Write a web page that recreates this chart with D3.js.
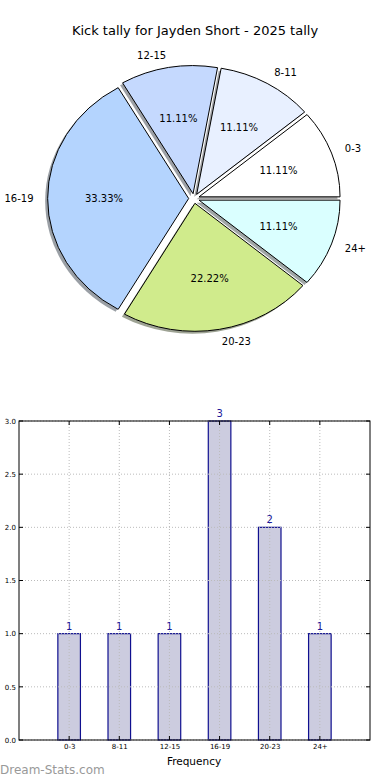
<!DOCTYPE html>
<html><head><meta charset="utf-8">
<script src="https://cdn.jsdelivr.net/npm/d3@7"></script>
<style>body{margin:0;background:#fff;} svg{display:block;font-family:"DejaVu Sans",sans-serif;}</style>
</head><body><div id="c"></div>
<script>
const title = "Kick tally for Jayden Short - 2025 tally";
const categories = ["0-3","8-11","12-15","16-19","20-23","24+"];
const counts = [1,1,1,3,2,1];
const pieColors = ["#ffffff","#e8f0ff","#c5d9fe","#b4d4fe","#d0eb8c","#daffff"];
const yTicks = [0,0.5,1.0,1.5,2.0,2.5,3.0];
const xLabel = "Frequency";
const watermark = "Dream-Stats.com";

const W=390,H=780;
const svg=d3.select("#c").append("svg").attr("width",W).attr("height",H);

svg.append("text").attr("x",195).attr("y",30).attr("text-anchor","middle")
  .attr("dominant-baseline","central").attr("font-size",13).attr("fill","#000").text(title);

// ---- Pie ----
const cx=194, cy=198.5, R=100, sx=1.41, sy=1.28, ex=0.038, shOff=2.5;
const pie=d3.pie().sort(null).value(d=>d).startAngle(Math.PI/2).endAngle(Math.PI/2-2*Math.PI);
const arcs=pie(counts);
const arc=d3.arc().innerRadius(0).outerRadius(R);
const total=d3.sum(counts);
const pg=svg.append("g");
function off(a,k){return [cx+k*R*sx*Math.sin(a), cy-k*R*sy*Math.cos(a)];}
// shadows
arcs.forEach((d,i)=>{
  const m=(d.startAngle+d.endAngle)/2;
  const [ox,oy]=off(m,ex);
  const c=d3.rgb(pieColors[i]);
  pg.append("path").attr("d",arc(d))
    .attr("transform",`translate(${ox-shOff},${oy+shOff}) scale(${sx},${sy})`)
    .attr("fill",d3.rgb(c.r*0.3,c.g*0.3,c.b*0.3)).attr("fill-opacity",0.5);
});
arcs.forEach((d,i)=>{
  const m=(d.startAngle+d.endAngle)/2;
  const [ox,oy]=off(m,ex);
  pg.append("path").attr("d",arc(d))
    .attr("transform",`translate(${ox},${oy}) scale(${sx},${sy})`)
    .attr("fill",pieColors[i]).attr("stroke","#000").attr("stroke-width",1)
    .attr("vector-effect","non-scaling-stroke");
  const [lx,ly]=off(m,ex+1.1);
  pg.append("text").attr("x",lx).attr("y",ly)
    .attr("text-anchor",Math.sin(m)>0?"start":"end").attr("dominant-baseline","central")
    .attr("font-size",10).text(categories[i]);
  const [px,py]=off(m,ex+0.6);
  pg.append("text").attr("x",px).attr("y",py).attr("text-anchor","middle")
    .attr("dominant-baseline","central").attr("font-size",10)
    .text(d3.format(".2f")(counts[i]/total*100)+"%");
});

// ---- Bar chart ----
const L=19,Rt=370,T=421,B=740;
const x=d3.scaleLinear().domain([-1,6]).range([L,Rt]);
const y=d3.scaleLinear().domain([0,3]).range([B,T]);
const bw=0.45;
const bg=svg.append("g");
bg.selectAll("rect.bar").data(counts).enter().append("rect")
  .attr("x",(d,i)=>x(i-bw/2)).attr("width",x(bw)-x(0))
  .attr("y",d=>y(d)).attr("height",d=>B-y(d))
  .attr("fill","#ccccdf").attr("stroke","#10108f").attr("stroke-width",1.2);
// grid
yTicks.forEach(t=>{
  bg.append("line").attr("x1",L).attr("x2",Rt).attr("y1",y(t)).attr("y2",y(t))
    .attr("stroke","#bbb").attr("stroke-width",1).attr("stroke-dasharray","1,2");
});
categories.forEach((c,i)=>{
  bg.append("line").attr("x1",x(i)).attr("x2",x(i)).attr("y1",T).attr("y2",B)
    .attr("stroke","#bbb").attr("stroke-width",1).attr("stroke-dasharray","1,2");
});
// axes
const yAx=bg.append("g").attr("transform",`translate(${L},0)`)
  .call(d3.axisLeft(y).tickValues(yTicks).tickFormat(d3.format(".1f")).tickSize(0).tickPadding(3));
yAx.select(".domain").remove();
yAx.selectAll("text").attr("font-size",7).attr("font-family","DejaVu Sans").attr("fill","#000");
const xAx=bg.append("g").attr("transform",`translate(0,${B})`)
  .call(d3.axisBottom(x).tickValues(d3.range(categories.length)).tickFormat(i=>categories[i]).tickSize(0).tickPadding(4));
xAx.select(".domain").remove();
xAx.selectAll("text").attr("font-size",7).attr("font-family","DejaVu Sans").attr("fill","#000");
// inner ticks
yTicks.forEach(t=>{
  bg.append("line").attr("x1",L).attr("x2",L+4).attr("y1",y(t)).attr("y2",y(t)).attr("stroke","#000");
  bg.append("line").attr("x1",Rt-4).attr("x2",Rt).attr("y1",y(t)).attr("y2",y(t)).attr("stroke","#000");
});
categories.forEach((c,i)=>{
  bg.append("line").attr("x1",x(i)).attr("x2",x(i)).attr("y1",B).attr("y2",B-4).attr("stroke","#000");
  bg.append("line").attr("x1",x(i)).attr("x2",x(i)).attr("y1",T).attr("y2",T+4).attr("stroke","#000");
});
bg.append("rect").attr("x",L).attr("y",T).attr("width",Rt-L).attr("height",B-T)
  .attr("fill","none").attr("stroke","#000").attr("stroke-width",1);
// value labels
bg.selectAll("text.val").data(counts).enter().append("text")
  .attr("x",(d,i)=>x(i)).attr("y",d=>y(d)-4).attr("text-anchor","middle")
  .attr("font-size",10).attr("fill","#1a1a9a").text(d=>d);
svg.append("text").attr("x",194).attr("y",761).attr("text-anchor","middle")
  .attr("dominant-baseline","central").attr("font-size",10.5).text(xLabel);
svg.append("text").attr("x",0).attr("y",770).attr("dominant-baseline","central")
  .attr("font-size",12).attr("fill","#999").text(watermark);
</script></body></html>
